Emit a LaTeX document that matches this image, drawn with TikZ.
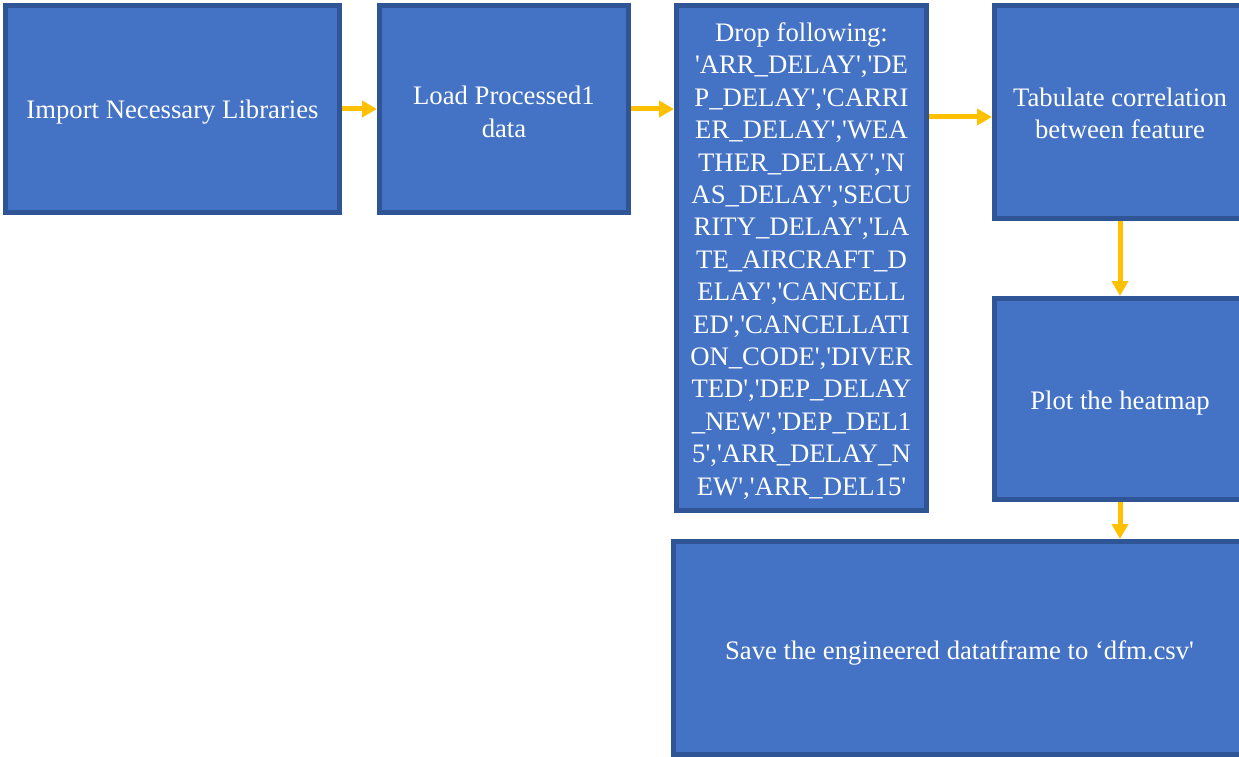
\documentclass[tikz,border=0pt]{standalone}
\usepackage{fontspec}
\newfontfamily\boxfont{Liberation Serif}
\usetikzlibrary{arrows.meta}
\definecolor{boxfill}{HTML}{4472C4}
\definecolor{boxline}{HTML}{2F5597}
\definecolor{flowyellow}{HTML}{FFC000}

\begin{document}
\begin{tikzpicture}[x=1pt,y=-1pt,
    stepbox/.style={draw=boxline,fill=boxfill,line width=5pt,inner sep=0pt},
    steptext/.style={text=white,align=center,inner sep=0pt,yshift=-3pt,
      font=\boxfont\fontsize{26.7}{32.4}\selectfont},
    flow/.style={draw=flowyellow,line width=5pt,-{Triangle[length=15pt,width=16pt]}}]
      \useasboundingbox (0,0) rectangle (1239,757);
      \node[stepbox,minimum width=334pt,minimum height=207pt,
        label={[steptext]center:Import Necessary Libraries}] (imp) at (172.5,109) {};
      \node[stepbox,minimum width=249pt,minimum height=207pt,
        label={[steptext]center:Load Processed1\\data}] (load) at (504,109) {};
      \node[stepbox,minimum width=250pt,minimum height=505pt,
        label={[steptext]center:Drop following:\\
        'ARR\_DELAY','DE\\P\_DELAY','CARRI\\ER\_DELAY','WEA\\THER\_DELAY','N\\AS\_DELAY','SECU\\
        RITY\_DELAY','LA\\TE\_AIRCRAFT\_D\\ELAY','CANCELL\\ED','CANCELLATI\\ON\_CODE','DIVER\\
        TED','DEP\_DELAY\\\_NEW','DEP\_DEL1\\5','ARR\_DELAY\_N\\EW','ARR\_DEL15'}] (drop) at (801.5,258) {};
      \node[stepbox,minimum width=251pt,minimum height=213pt,
        label={[steptext,yshift=1.5pt]center:Tabulate correlation\\between feature}] (tab) at (1120,112) {};
      \node[stepbox,minimum width=251pt,minimum height=201pt,
        label={[steptext,yshift=-1pt]center:Plot the heatmap}] (heat) at (1120,399) {};
      \node[stepbox,minimum width=572pt,minimum height=213pt,
        label={[steptext,yshift=-1.5pt]center:Save the engineered datatframe to ‘dfm.csv'}] (save) at (959.5,648) {};
      % yellow flow arrows
      \draw[flow] (imp.east) -- (load.west);
      \draw[flow] (load.east) -- (load.east -| drop.west);
      \draw[flow] (drop.east |- 0,117) -- (tab.west |- 0,117);
      \draw[flow] (tab.south) -- (heat.north);
      \draw[flow] (heat.south) -- (heat.south |- save.north);
    \end{tikzpicture}
\end{document}
